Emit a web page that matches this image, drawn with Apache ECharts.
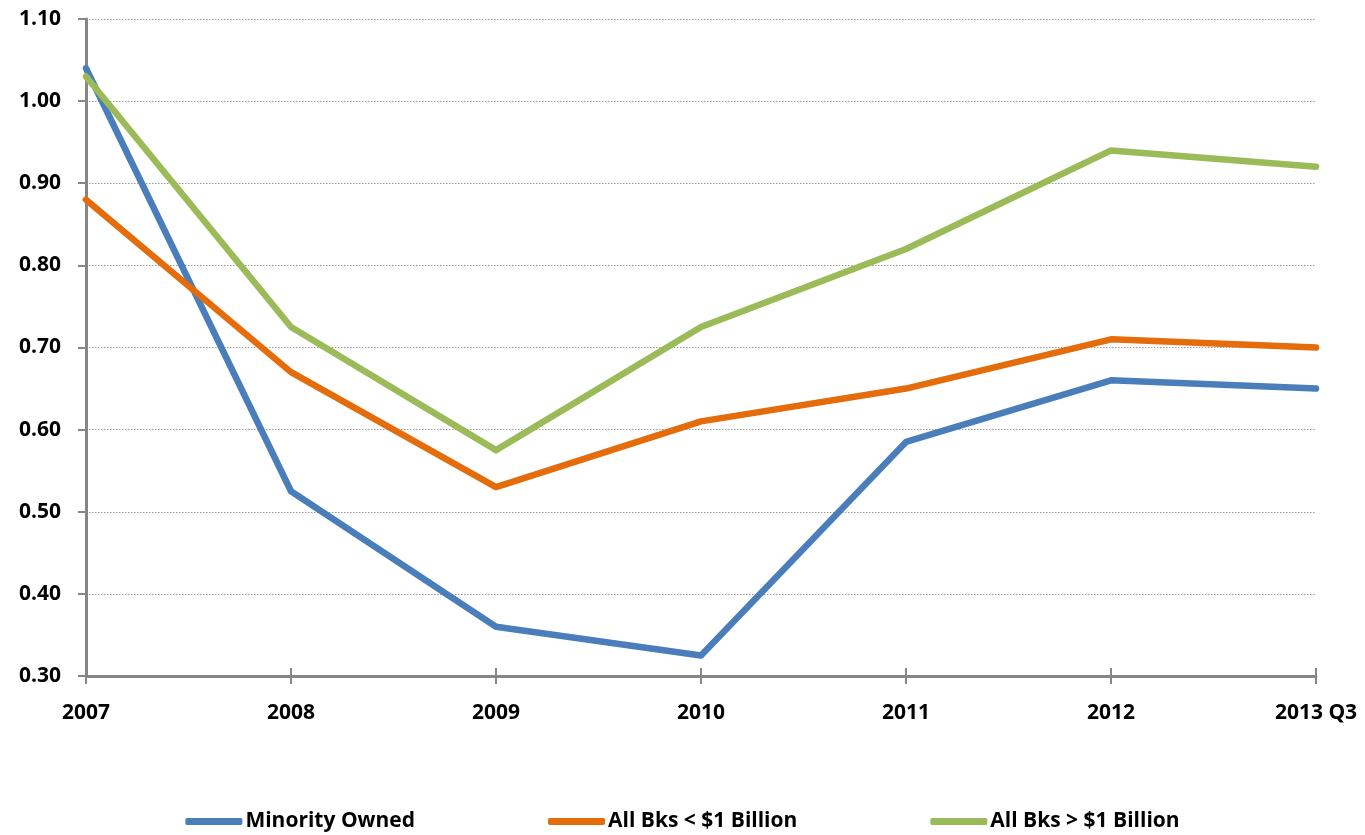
<!DOCTYPE html>
<html>
<head>
<meta charset="utf-8">
<script src="https://cdn.jsdelivr.net/npm/echarts@6/dist/echarts.min.js"></script>
<style>
  html, body { margin: 0; padding: 0; background: #fff; }
  #chart { width: 1365px; height: 835px; }
</style>
</head>
<body>
<div id="chart"></div>
<script>
// Categories (years) and series values
const years = ['2007', '2008', '2009', '2010', '2011', '2012', '2013 Q3'];
const minorityOwned = [1.04, 0.525, 0.36, 0.325, 0.585, 0.66, 0.65];
const smallBanks = [0.88, 0.67, 0.53, 0.61, 0.65, 0.71, 0.70];
const largeBanks = [1.03, 0.725, 0.575, 0.725, 0.82, 0.94, 0.92];
const seriesNames = ['Minority Owned', 'All Bks < $1 Billion', 'All Bks > $1 Billion'];

const FONT = "'Open Sans', 'Noto Sans', sans-serif";
const FONT_SIZE = 21;
const AXIS_GRAY = '#868686';
const colors = ['#4A7EBB', '#E46C0A', '#9BBB59'];

const chart = echarts.init(document.getElementById('chart'));

function lineSeries(name, data, color) {
  return {
    name: name,
    type: 'line',
    data: data,
    symbol: 'none',
    smooth: false,
    lineStyle: { color: color, width: 6.5, cap: 'round', join: 'round' },
    itemStyle: { color: color }
  };
}

chart.setOption({
  animation: false,
  color: colors,
  grid: { left: 86, right: 49, top: 19, bottom: 159, containLabel: false },
  legend: {
    top: 806,
    left: 'center',
    itemWidth: 57,
    itemHeight: 7,
    itemGap: 133,
    icon: 'roundRect',
    textStyle: { fontFamily: FONT, fontWeight: 'bold', fontSize: FONT_SIZE, color: '#000', padding: [0, 0, 0, -2] },
    data: seriesNames
  },
  xAxis: [
    {
      type: 'category',
      data: years,
      boundaryGap: false,
      axisLine: { lineStyle: { color: AXIS_GRAY, width: 3 } },
      axisTick: { show: true, length: 8, lineStyle: { color: AXIS_GRAY, width: 2 } },
      axisLabel: { fontFamily: FONT, fontWeight: 'bold', fontSize: FONT_SIZE, color: '#000', margin: 27 },
      splitLine: { show: false }
    },
    {
      type: 'category',
      data: years,
      boundaryGap: false,
      position: 'bottom',
      axisLine: { show: false },
      axisTick: { show: true, inside: true, length: 8, lineStyle: { color: AXIS_GRAY, width: 2 } },
      axisLabel: { show: false },
      splitLine: { show: false }
    }
  ],
  yAxis: {
    type: 'value',
    min: 0.3,
    max: 1.1,
    interval: 0.1,
    axisLine: { show: true, lineStyle: { color: AXIS_GRAY, width: 3 } },
    axisTick: { show: true, length: 8, lineStyle: { color: AXIS_GRAY, width: 2 } },
    axisLabel: {
      fontFamily: FONT, fontWeight: 'bold', fontSize: FONT_SIZE, color: '#000', margin: 25,
      formatter: v => v.toFixed(2)
    },
    splitLine: { show: true, lineStyle: { color: '#9a9a9a', width: 1, type: [1.5, 1.5] } }
  },
  series: [
    lineSeries(seriesNames[0], minorityOwned, colors[0]),
    lineSeries(seriesNames[1], smallBanks, colors[1]),
    lineSeries(seriesNames[2], largeBanks, colors[2])
  ]
});
</script>
</body>
</html>
